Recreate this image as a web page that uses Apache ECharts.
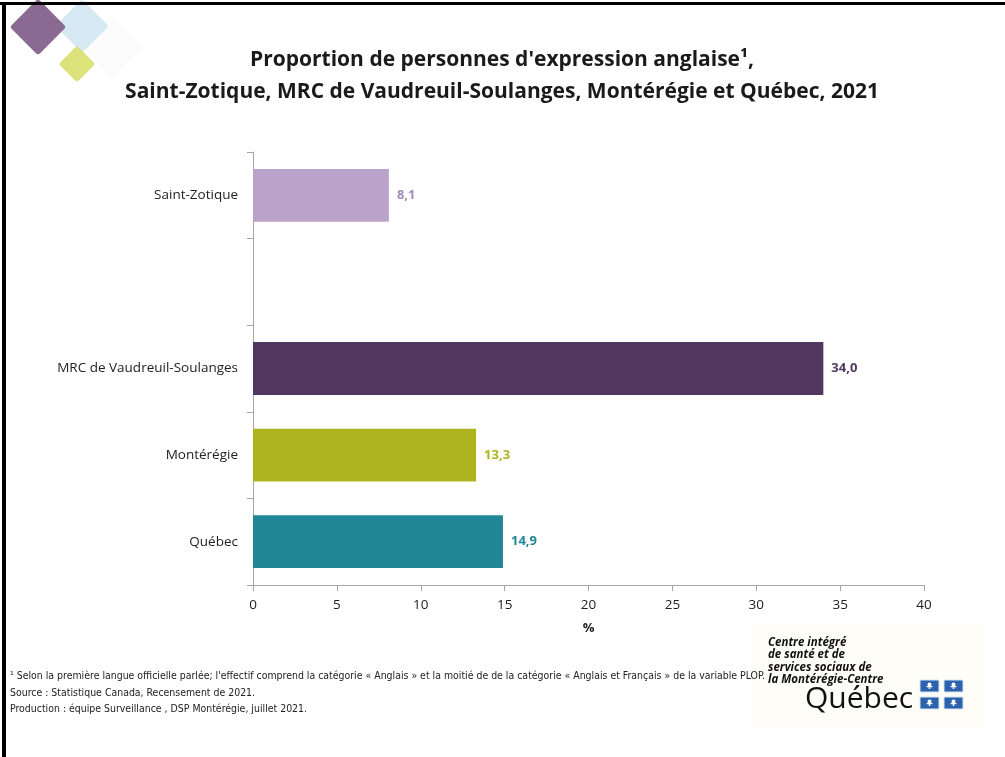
<!DOCTYPE html>
<html>
<head>
<meta charset="utf-8">
<script src="https://cdn.jsdelivr.net/npm/echarts@6/dist/echarts.min.js"></script>
<style>
  html, body { margin: 0; padding: 0; background: #fff; }
  #chart { width: 1005px; height: 757px; }
</style>
</head>
<body>
<div id="chart"></div>
<script>
const categories = ['Saint-Zotique', '', 'MRC de Vaudreuil-Soulanges', 'Montérégie', 'Québec'];
const values = [8.1, null, 34.0, 13.3, 14.9];
const barColors = ['#b9a3cb', '#ffffff', '#523861', '#adb41e', '#1f8796'];
const labelColors = ['#a58bc0', '#ffffff', '#523861', '#adb41e', '#1f8796'];
const xTicks = [0, 5, 10, 15, 20, 25, 30, 35, 40];

const font = "'Open Sans', 'Noto Sans', sans-serif";
const narrow = "'Liberation Sans Narrow', 'DejaVu Sans Condensed', 'Noto Sans', sans-serif";

const notes = [
  "¹ Selon la première langue officielle parlée; l'effectif comprend la catégorie « Anglais » et la moitié de de la catégorie « Anglais et Français » de la variable PLOP.",
  'Source : Statistique Canada, Recensement de 2021.',
  'Production : équipe Surveillance , DSP Montérégie, juillet 2021.'
];

// la police du pied de page est plus étroite que celles qu'on a : on la comprime
const ctx = document.createElement('canvas').getContext('2d');
ctx.font = "11px " + narrow;
const noteScale = Math.min(1, 755 / ctx.measureText(notes[0]).width);

const chart = echarts.init(document.getElementById('chart'));

function diamond(cx, cy, size, color, opacity) {
  return {
    type: 'rect',
    x: cx, y: cy,
    rotation: Math.PI / 4,
    shape: { x: -size / 2, y: -size / 2, width: size, height: size, r: 3 },
    style: { fill: color, opacity: opacity },
    z: 1
  };
}

function flag(x, y) {
  return {
    type: 'group',
    x: x, y: y,
    children: [
      { type: 'rect', shape: { x: 0, y: 0, width: 19, height: 12 }, style: { fill: '#2a62ad', stroke: '#d8e4f2', lineWidth: 1 } },
      { type: 'circle', shape: { cx: 9.5, cy: 4.5, r: 2 }, style: { fill: '#fff' } },
      { type: 'rect', shape: { x: 8.7, y: 4, width: 1.6, height: 5 }, style: { fill: '#fff' } },
      { type: 'rect', shape: { x: 6.5, y: 6, width: 6, height: 1.2 }, style: { fill: '#fff' } }
    ]
  };
}

function noteText(text, top) {
  return {
    type: 'text', x: 10, y: top, scaleX: noteScale,
    style: { text: text, fontFamily: narrow, fontSize: 11, fill: '#222' }
  };
}

const option = {
  backgroundColor: '#fff',
  animation: false,
  title: {
    text: "Proportion de personnes d'expression anglaise¹,\nSaint-Zotique, MRC de Vaudreuil-Soulanges, Montérégie et Québec, 2021",
    left: 497,
    textAlign: 'center',
    top: 39,
    textStyle: { fontFamily: font, fontSize: 21, fontWeight: 'bold', color: '#1a1a1a', lineHeight: 32 }
  },
  grid: { left: 253, right: 81, top: 152, bottom: 172 },
  xAxis: {
    type: 'value',
    min: 0,
    max: 40,
    interval: 5,
    name: '%',
    nameLocation: 'middle',
    nameGap: 37,
    nameTextStyle: { fontFamily: font, fontSize: 13, fontWeight: 'bold', color: '#222' },
    axisLine: { show: true, lineStyle: { color: '#a6a6a6', width: 1 } },
    axisTick: { show: true, length: 6, lineStyle: { color: '#a6a6a6' } },
    splitLine: { show: false },
    axisLabel: {
      fontFamily: font, fontSize: 13.5, color: '#222', margin: 13,
      formatter: v => (xTicks.includes(v) ? String(v) : '')
    }
  },
  yAxis: {
    type: 'category',
    inverse: true,
    data: categories,
    axisLine: { show: true, lineStyle: { color: '#a6a6a6', width: 1 } },
    axisTick: { show: true, length: 6, lineStyle: { color: '#a6a6a6' } },
    axisLabel: { fontFamily: font, fontSize: 13.5, color: '#222', margin: 15 }
  },
  series: [{
    type: 'bar',
    barWidth: '61%',
    data: values.map((v, i) => ({
      value: v,
      itemStyle: { color: barColors[i] },
      label: { color: labelColors[i] }
    })),
    label: {
      show: true,
      position: 'right',
      distance: 8,
      fontFamily: font,
      fontSize: 13,
      fontWeight: 'bold',
      formatter: p => (p.value == null ? '' : p.value.toFixed(1).replace('.', ','))
    }
  }],
  graphic: [
    // cadre
    { type: 'rect', shape: { x: 0, y: 2, width: 1005, height: 3 }, style: { fill: '#000' }, z: 10 },
    { type: 'rect', shape: { x: 2, y: 2, width: 4, height: 755 }, style: { fill: '#000' }, z: 10 },
    // logo haut gauche
    diamond(112, 46, 44, '#fbfbfc', 1),
    diamond(82, 26, 38, '#d6e9f2', 1),
    diamond(38, 27, 40, '#8a6a92', 1),
    diamond(77, 64, 26, '#dde27a', 1),
    // logo Québec
    { type: 'rect', shape: { x: 752, y: 624, width: 232, height: 102 }, style: { fill: '#fffdf7' }, z: 0 },
    {
      type: 'text', left: 768, top: 636,
      style: {
        text: 'Centre intégré\nde santé et de\nservices sociaux de\nla Montérégie-Centre',
        fontFamily: font, fontSize: 11.5, fontWeight: 'bold', fontStyle: 'italic',
        fill: '#111', lineHeight: 12.5
      }
    },
    {
      type: 'text', left: 805, top: 684,
      style: { text: 'Québec', fontFamily: font, fontSize: 30, fill: '#111' }
    },
    flag(920, 680), flag(944, 680), flag(920, 697), flag(944, 697),
    // notes
    noteText(notes[0], 671),
    noteText(notes[1], 688),
    noteText(notes[2], 704)
  ]
};

chart.setOption(option);
</script>
</body>
</html>
